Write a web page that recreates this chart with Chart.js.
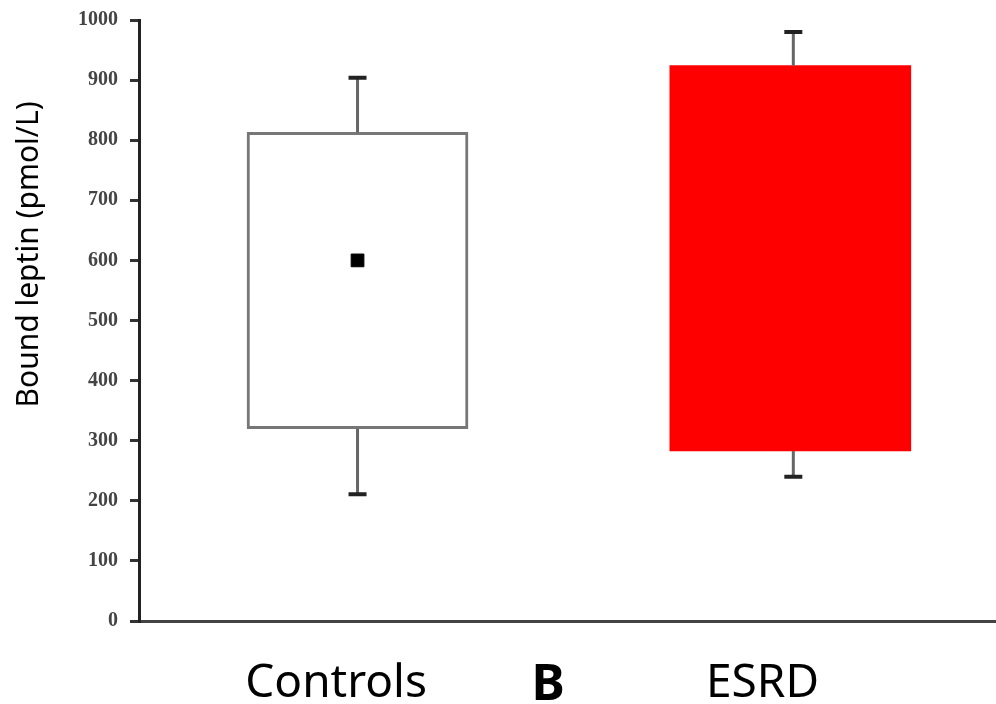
<!DOCTYPE html>
<html>
<head>
<meta charset="utf-8">
<script src="https://cdn.jsdelivr.net/npm/chart.js@4"></script>
<style>
  body { margin: 0; background: #fff; }
  #wrap { width: 996px; height: 704px; }
</style>
</head>
<body>
<div id="wrap"><canvas id="leptinChart" width="996" height="704"></canvas></div>
<script>
// groups and where they sit on the x scale
const groups = ['Controls', 'ESRD'];
const groupX = [1.02, 3.04];
// box ends and whisker ends (pmol/L)
const boxLow = [320, 283];
const boxHigh = [813, 924];
const whiskerLow = [211, 240];
const whiskerHigh = [904, 980];
const medians = [600, null];
// x axis labels ("B" is the panel letter)
const xLabels = ['Controls', 'B', 'ESRD'];
const xLabelAt = [0.92, 1.91, 2.91];
const yTicks = [0, 100, 200, 300, 400, 500, 600, 700, 800, 900, 1000];

// whiskers with caps
const whiskerPlugin = {
  id: 'whiskers',
  afterDatasetsDraw(chart) {
    const ctx = chart.ctx;
    const xs = chart.scales.x, ys = chart.scales.y;
    ctx.save();
    groups.forEach((g, i) => {
      const x = xs.getPixelForValue(groupX[i]) + (i === 1 ? 3 : 0);
      ctx.strokeStyle = '#666';
      ctx.lineWidth = 3;
      ctx.beginPath();
      ctx.moveTo(x, ys.getPixelForValue(boxHigh[i]));
      ctx.lineTo(x, ys.getPixelForValue(whiskerHigh[i]));
      ctx.moveTo(x, ys.getPixelForValue(boxLow[i]));
      ctx.lineTo(x, ys.getPixelForValue(whiskerLow[i]));
      ctx.stroke();
      ctx.strokeStyle = '#222';
      ctx.lineWidth = 4;
      ctx.beginPath();
      [whiskerHigh[i], whiskerLow[i]].forEach(v => {
        const y = ys.getPixelForValue(v);
        ctx.moveTo(x - 9, y);
        ctx.lineTo(x + 9, y);
      });
      ctx.stroke();
    });
    ctx.restore();
  }
};

// y axis title, set a bit above the middle like the original
const yTitlePlugin = {
  id: 'yTitle',
  afterDraw(chart) {
    const ctx = chart.ctx;
    const ys = chart.scales.y;
    ctx.save();
    ctx.translate(29, ys.getPixelForValue(610));
    ctx.rotate(-Math.PI / 2);
    ctx.font = '30px "Noto Sans"';
    ctx.fillStyle = '#000';
    ctx.textAlign = 'center';
    ctx.textBaseline = 'middle';
    ctx.fillText('Bound leptin (pmol/L)', 0, 0);
    ctx.restore();
  }
};

const ctx = document.getElementById('leptinChart').getContext('2d');
new Chart(ctx, {
  type: 'bar',
  data: {
    datasets: [
      {
        label: groups[0],
        data: [{ x: groupX[0], y: [boxLow[0], boxHigh[0]] }],
        backgroundColor: '#fff',
        borderColor: '#777',
        borderWidth: 3,
        borderSkipped: false,
        barThickness: 221
      },
      {
        label: groups[1],
        data: [{ x: groupX[1], y: [boxLow[1], boxHigh[1]] }],
        backgroundColor: '#ff0000',
        borderWidth: 0,
        barThickness: 241
      },
      {
        type: 'scatter',
        label: 'median',
        data: groupX.map((x, i) => ({ x: x, y: medians[i] })),
        pointStyle: 'rect',
        pointRadius: 9,
        backgroundColor: '#000',
        borderColor: '#000',
        order: -1
      }
    ]
  },
  options: {
    responsive: false,
    animation: false,
    grouped: false,
    layout: { autoPadding: false, padding: { top: 20, right: 0, left: 0, bottom: 0 } },
    plugins: {
      legend: { display: false },
      tooltip: { enabled: false }
    },
    scales: {
      x: {
        type: 'linear',
        min: 0,
        max: 4,
        offset: false,
        grid: { display: false },
        border: { display: true, color: '#444', width: 3 },
        afterBuildTicks: (scale) => {
          scale.ticks = xLabelAt.map(v => ({ value: v }));
        },
        afterFit: (scale) => {
          scale.height = 83;
          scale.paddingLeft = 0;
          scale.paddingRight = 0;
        },
        ticks: {
          autoSkip: false,
          maxRotation: 0,
          padding: 27,
          color: '#000',
          callback: (value) => xLabels[xLabelAt.indexOf(value)],
          font: (c) => c.index === 1
            ? { family: 'Noto Sans', size: 50, weight: 'bold' }
            : { family: 'Noto Sans', size: 46 }
        }
      },
      y: {
        min: 0,
        max: 1000,
        afterBuildTicks: (scale) => {
          scale.ticks = yTicks.map(v => ({ value: v }));
        },
        afterFit: (scale) => {
          scale.width = 139;
          scale.paddingTop = 0;
          scale.paddingBottom = 0;
        },
        grid: {
          drawOnChartArea: false,
          drawTicks: true,
          tickLength: 9,
          lineWidth: 3,
          color: '#333'
        },
        border: { display: true, color: '#222', width: 3 },
        ticks: {
          padding: 12,
          color: '#444',
          callback: (value) => String(value),
          font: { family: 'Liberation Serif', size: 20, weight: 'bold' }
        }
      }
    }
  },
  plugins: [whiskerPlugin, yTitlePlugin]
});
</script>
</body>
</html>
